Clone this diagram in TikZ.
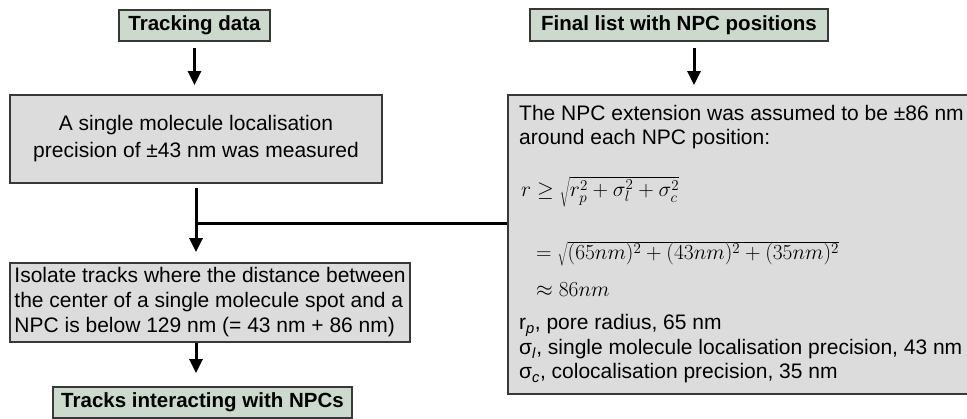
\RequirePackage{fix-cm}
\documentclass[tikz,border=0pt]{standalone}
\usepackage{fontspec}
\setmainfont{Liberation Sans}
\usetikzlibrary{arrows.meta}
\definecolor{termfill}{HTML}{CBDACC}
\definecolor{stepfill}{HTML}{DCDCDC}
\definecolor{edgegray}{HTML}{383838}

\begin{document}
\begin{tikzpicture}[x=1pt,y=-1pt,
  term/.style={draw=edgegray, line width=1.8pt, fill=termfill, inner sep=0pt,
    font=\fontsize{20.5}{24}\selectfont\bfseries},
  stepbox/.style={draw=edgegray, line width=1.8pt, fill=stepfill, inner sep=0pt},
  flow/.style={line width=3pt, -{Triangle[width=13pt,length=14pt]}},
  plain/.style={line width=3pt},
  body/.style={font=\fontsize{21}{25}\selectfont, inner sep=0pt, anchor=base west},
  formula/.style={font=\fontsize{21.5}{25}\selectfont, inner sep=0pt, anchor=base west}
]
\useasboundingbox (0,0) rectangle (967,419);

% left column
\node[term, minimum width=151pt, minimum height=31pt] (track) at (194.5,25.5) {Tracking data};
\node[stepbox, minimum width=372pt, minimum height=88pt, align=center,
  font=\fontsize{21}{27}\selectfont] (measure) at (196,139)
  {A single molecule localisation\\precision of ±43 nm was measured};
\node[stepbox, minimum width=400pt, minimum height=79pt, align=left,
  font=\fontsize{21}{25}\selectfont] (isolate) at (210,302.5)
  {Isolate tracks where the distance between\\the center of a single molecule spot and a\\NPC is below 129 nm (= 43 nm + 86 nm)};
\node[term, minimum width=299pt, minimum height=31pt] (result) at (202.5,402.5) {Tracks interacting with NPCs};

% right column
\node[term, minimum width=298pt, minimum height=32pt] (npclist) at (679,25) {Final list with NPC positions};
\node[stepbox, minimum width=465pt, minimum height=299pt] (extent) at (740.5,244.5) {};

\node[body] (l1) at (519,121) {The NPC extension was assumed to be ±86 nm};
\node[body] (l2) at (519,145) {around each NPC position:};
\node[formula] (f1) at (521,197) {$r \geq \sqrt{\vphantom{(}r_p^2+\sigma_l^2+\sigma_c^2}$};
\node[formula] (f2) at (536,260) {$= \sqrt{(65nm)^2+(43nm)^2+(35nm)^2}$};
\node[formula] (f3) at (536,297) {$\approx 86nm$};
\node[body] (k1) at (519,330) {r\textsubscript{\textit{p}}, pore radius, 65 nm};
\node[body] (k2) at (519,355) {σ\textsubscript{\textit{l}}, single molecule localisation precision, 43 nm};
\node[body] (k3) at (519,379) {σ\textsubscript{\textit{c}}, colocalisation precision, 35 nm};

% connectors
\coordinate (joinlevel) at (0,224);
\coordinate (join) at (measure.south |- joinlevel);
\draw[flow, shorten <=6pt, shorten >=9pt] (track.south) -- (track.south |- measure.north);
\draw[flow, shorten <=4pt, shorten >=10pt] (measure.south) -- (measure.south |- isolate.north);
\draw[plain] (join) -- (join -| extent.west);
\draw[flow, shorten >=13pt] (isolate.south -| measure.south) -- (measure.south |- result.north);
\draw[flow, shorten <=6pt, shorten >=9pt] ([xshift=15pt]npclist.south) -- ([xshift=15pt]npclist.south |- extent.north);
\end{tikzpicture}
\end{document}
